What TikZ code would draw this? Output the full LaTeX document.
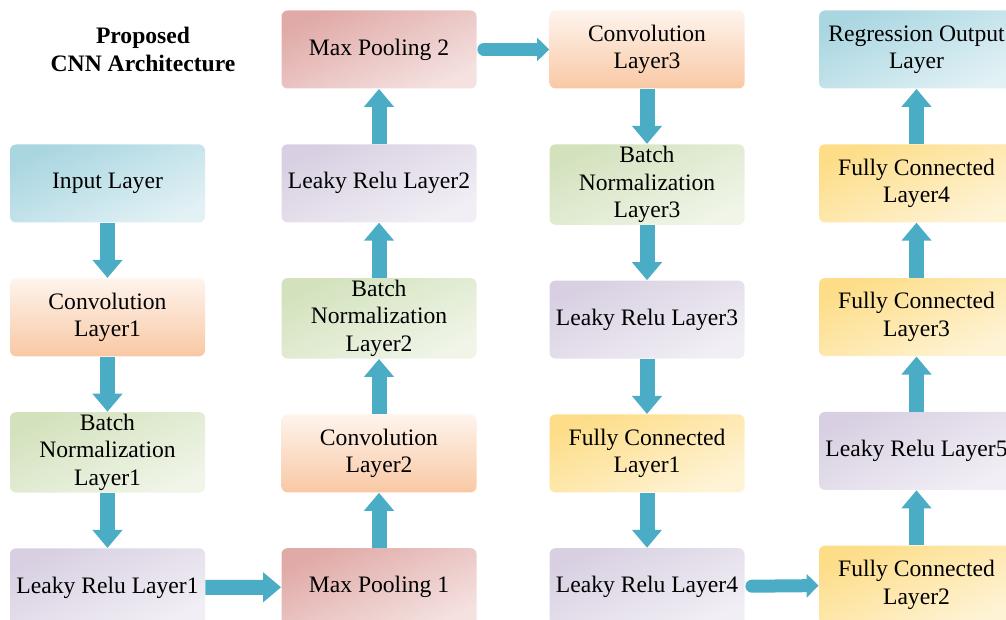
\documentclass[tikz,border=0pt]{standalone}
\usepackage{fontspec}
\setmainfont{Liberation Serif}
\usetikzlibrary{arrows.meta, positioning}
\definecolor{cnnarrow}{HTML}{4BACC6}
\definecolor{cnnblue}{HTML}{A9D6E1}
\definecolor{cnnorange}{HTML}{F9C8A4}
\definecolor{cnngreen}{HTML}{D3E2BD}
\definecolor{cnnpurple}{HTML}{D8D0E2}
\definecolor{cnnred}{HTML}{E0AAA7}
\definecolor{cnnyellow}{HTML}{FDDD88}

\begin{document}
\begin{tikzpicture}[
    x=0.5pt, y=-0.5pt,
    node distance=27.5pt,
    layer_node/.style={rectangle, rounded corners=3pt, minimum width=97.5pt, minimum height=39pt, align=center, inner sep=1pt, font=\fontsize{11.8}{13.75}\selectfont},
    input_node/.style={layer_node, top color=cnnblue, middle color=cnnblue, bottom color=cnnblue!35, shading angle=25},
    conv_node/.style={layer_node, top color=cnnorange!20, bottom color=cnnorange},
    batch_node/.style={layer_node, top color=cnngreen, middle color=cnngreen, bottom color=cnngreen!35, shading angle=25},
    relu_node/.style={layer_node, top color=cnnpurple, middle color=cnnpurple, bottom color=cnnpurple!35, shading angle=25},
    pool_node/.style={layer_node, top color=cnnred, middle color=cnnred, bottom color=cnnred!35, shading angle=25},
    fc_node/.style={layer_node, top color=cnnyellow, middle color=cnnyellow, bottom color=cnnyellow!35, shading angle=25},
    arrow/.style={-{Triangle[width=14.5pt,length=9pt]}, line width=7.5pt, draw=cnnarrow},
    side_arrow/.style={-{Triangle[width=11.5pt,length=6pt]}, line width=6.5pt, line cap=round, shorten <=3.5pt, draw=cnnarrow}
]
\useasboundingbox (0,0) rectangle (1006,620);

\node[font=\fontsize{11.8}{13.75}\selectfont\bfseries, align=center] (title) at (143,49.5) {Proposed\\CNN Architecture};

% Column 1
\node[input_node] (input) at (107.5,183.5) {Input Layer};
\node[conv_node, below=of input] (conv1) {Convolution\\Layer1};
\node[batch_node, below=of conv1] (bn1) {Batch\\Normalization\\Layer1};
\node[relu_node, below=of bn1] (lrelu1) {Leaky Relu Layer1};

% Column 2
\node[pool_node] (pool2) at (379,49.5) {Max Pooling 2};
\node[relu_node, below=of pool2] (lrelu2) {Leaky Relu Layer2};
\node[batch_node, below=of lrelu2] (bn2) {Batch\\Normalization\\Layer2};
\node[conv_node, below=of bn2] (conv2) {Convolution\\Layer2};
\node[pool_node, below=of conv2] (pool1) {Max Pooling 1};

% Column 3
\node[conv_node] (conv3) at (647,49.5) {Convolution\\Layer3};
\node[batch_node, below=of conv3] (bn3) {Batch\\Normalization\\Layer3};
\node[relu_node, below=of bn3] (lrelu3) {Leaky Relu Layer3};
\node[fc_node, below=of lrelu3] (fc1) {Fully Connected\\Layer1};
\node[relu_node, below=of fc1] (lrelu4) {Leaky Relu Layer4};

% Column 4
\node[input_node] (output) at (916.5,49.5) {Regression Output\\Layer};
\node[fc_node, below=of output] (fc4) {Fully Connected\\Layer4};
\node[fc_node, below=of fc4] (fc3) {Fully Connected\\Layer3};
\node[relu_node, below=of fc3] (lrelu5) {Leaky Relu Layer5};
\node[fc_node, below=of lrelu5] (fc2) {Fully Connected\\Layer2};

% Connections
\draw[arrow] (input) -- (conv1);
\draw[arrow] (conv1) -- (bn1);
\draw[arrow] (bn1) -- (lrelu1);
\draw[arrow] (lrelu1) -- (pool1);
\draw[arrow] (pool1) -- (conv2);
\draw[arrow] (conv2) -- (bn2);
\draw[arrow] (bn2) -- (lrelu2);
\draw[arrow] (lrelu2) -- (pool2);
\draw[side_arrow] (pool2) -- (conv3);
\draw[arrow] (conv3) -- (bn3);
\draw[arrow] (bn3) -- (lrelu3);
\draw[arrow] (lrelu3) -- (fc1);
\draw[arrow] (fc1) -- (lrelu4);
\draw[side_arrow] (lrelu4) -- (fc2);
\draw[arrow] (fc2) -- (lrelu5);
\draw[arrow] (lrelu5) -- (fc3);
\draw[arrow] (fc3) -- (fc4);
\draw[arrow] (fc4) -- (output);

\end{tikzpicture}
\end{document}
